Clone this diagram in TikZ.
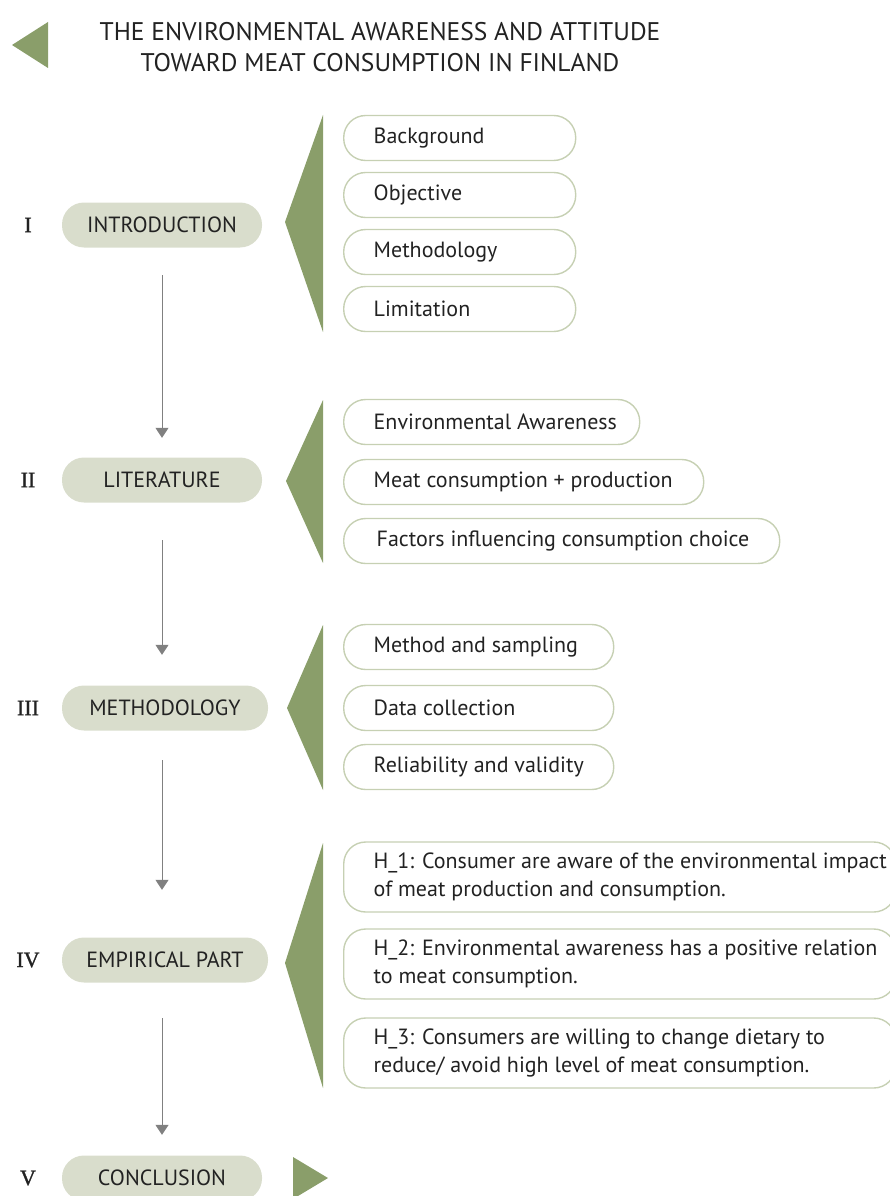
\documentclass[tikz,border=0pt]{standalone}
\usepackage{fontspec}
\setmainfont{PT Sans}
\newfontfamily\numfont[FakeBold=1.2]{Liberation Serif}
\usetikzlibrary{arrows.meta}
\definecolor{leaf}{HTML}{8A9E6A}
\definecolor{pillfill}{HTML}{D9DDCC}
\definecolor{boxline}{HTML}{C6D0B3}
\definecolor{ink}{HTML}{222222}
\definecolor{flowgray}{HTML}{808080}
% fixed-width left-aligned label inside an item box
\newcommand\itemlabel[2]{\makebox[#1][l]{#2}}
\begin{document}
\begin{tikzpicture}[x=1pt,y=-1pt,
  stage/.style={fill=pillfill, rounded corners=22pt, minimum width=200pt,
    minimum height=45pt, inner sep=0pt, text=ink,
    font=\fontsize{22}{24}\selectfont},
  item/.style={draw=boxline, line width=1.4pt, rounded corners=22pt,
    minimum height=45pt, anchor=west, inner xsep=30pt, inner ysep=0pt,
    text=ink, font=\fontsize{22}{24}\selectfont},
  hypo/.style={item, minimum height=70pt, align=left,
    font=\fontsize{22}{28}\selectfont},
  num/.style={text=ink, font=\numfont\fontsize{22}{24}\selectfont},
  flow/.style={draw=flowgray, line width=1pt,
    -{Triangle[width=13pt,length=10pt]}},
  wedge/.style={fill=leaf},
  heading/.style={text=ink, align=center, font=\fontsize{25.5}{31}\selectfont}
]
\clip (0,0) rectangle (890,1196);

% title
\fill[wedge] (12,45) -- (48,22) -- (48,68) -- cycle;
\node[heading] (title) at (380,47) {THE ENVIRONMENTAL AWARENESS AND ATTITUDE\\TOWARD MEAT CONSUMPTION IN FINLAND};

% I introduction
\node[num] (n1) at (28,225) {I};
\node[stage] (intro) at (162,225) {INTRODUCTION};
\fill[wedge] (285,222) -- (323,115) -- (323,332) -- cycle;
\node[item] (bg)  at (343,138) {\itemlabel{172pt}{Background}};
\node[item] (obj) at (343,195) {\itemlabel{172pt}{Objective}};
\node[item] (met) at (343,252) {\itemlabel{172pt}{Methodology}};
\node[item] (lim) at (343,309) {\itemlabel{172pt}{Limitation}};

% II literature
\node[num] (n2) at (28,480) {II};
\node[stage] (lit) at (162,480) {LITERATURE};
\fill[wedge] (286,481) -- (323,400) -- (323,563) -- cycle;
\node[item] (env) at (343,422) {\itemlabel{236pt}{Environmental Awareness}};
\node[item] (mcp) at (343,482) {\itemlabel{300pt}{Meat consumption + production}};
\node[item] (fac) at (343,541) {\itemlabel{376pt}{\hspace{3pt}Factors influencing consumption choice}};

% III methodology
\node[num] (n3) at (28,708) {III};
\node[stage, minimum width=206pt] (meth) at (165,708) {METHODOLOGY};
\fill[wedge] (287,708) -- (323,625) -- (323,790) -- cycle;
\node[item] (sam) at (343,647) {\itemlabel{210pt}{Method and sampling}};
\node[item] (dat) at (343,708) {\itemlabel{210pt}{Data collection}};
\node[item] (rel) at (343,767) {\itemlabel{210pt}{Reliability and validity}};

% IV empirical part
\node[num] (n4) at (28,960) {IV};
\node[stage, minimum width=206pt] (emp) at (165,960) {EMPIRICAL PART};
\fill[wedge] (285,963) -- (323,843) -- (323,1088) -- cycle;
\node[hypo] (h1) at (343,877) {\itemlabel{492pt}{H\_1: Consumer are aware of the environmental impact}\\of meat production and consumption.};
\node[hypo] (h2) at (343,964) {\itemlabel{492pt}{H\_2: Environmental awareness has a positive relation}\\to meat consumption.};
\node[hypo] (h3) at (343,1053) {\itemlabel{492pt}{H\_3: Consumers are willing to change dietary to}\\reduce/ avoid high level of meat consumption.};

% V conclusion
\node[num] (n5) at (28,1178) {V};
\node[stage] (con) at (162,1178) {CONCLUSION};
\fill[wedge] (293,1157) -- (328,1178) -- (293,1199) -- cycle;

% flow between stages
\draw[flow, shorten <=27.5pt, shorten >=19.5pt] (intro.south) -- (intro.south |- lit.north);
\draw[flow, shorten <=37.5pt, shorten >=30.5pt] (lit.south) -- (lit.south |- meth.north);
\draw[flow, shorten <=29.5pt, shorten >=47.5pt] (lit.south |- meth.south) -- (lit.south |- emp.north);
\draw[flow, shorten <=35.5pt, shorten >=20.5pt] (lit.south |- emp.south) -- (lit.south |- con.north);
\end{tikzpicture}
\end{document}
